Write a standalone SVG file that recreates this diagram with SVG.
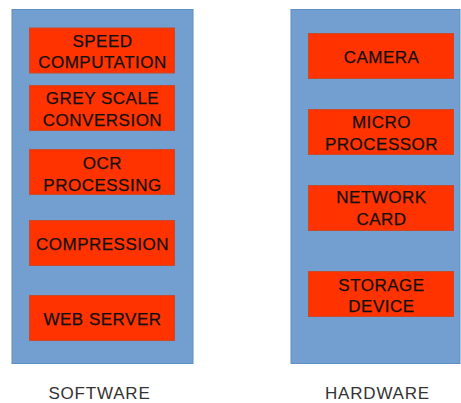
<svg xmlns="http://www.w3.org/2000/svg" width="461" height="403" viewBox="0 0 461 403">
  <style>
    .panel { fill: #729fcf; stroke: #5f8fc0; stroke-width: 1; }
    .box { fill: #ff3300; stroke: #c84a2a; stroke-width: 1; }
    .t { font-family: "Liberation Sans", Arial, sans-serif; font-size: 17px; letter-spacing: 0.5px; fill: #111111; stroke: #111111; stroke-width: 0.25; text-anchor: middle; }
    .cap { font-family: "Liberation Sans", Arial, sans-serif; font-size: 17px; letter-spacing: 0.8px; fill: #333333; text-anchor: middle; }
  </style>

  <!-- Software column -->
  <g id="software">
    <rect class="panel" x="12" y="9.5" width="181" height="354"/>
    <text class="cap" x="99.5" y="399">SOFTWARE</text>
  </g>
  <g id="speed-computation">
    <rect class="box" x="29.5" y="28" width="145" height="45"/>
    <text class="t" x="102.5" y="47">SPEED</text>
    <text class="t" x="102.5" y="68">COMPUTATION</text>
  </g>
  <g id="grey-scale-conversion">
    <rect class="box" x="29.5" y="85.5" width="145" height="45"/>
    <text class="t" x="102.5" y="104">GREY SCALE</text>
    <text class="t" x="102.5" y="126">CONVERSION</text>
  </g>
  <g id="ocr-processing">
    <rect class="box" x="29.5" y="149.5" width="145" height="45"/>
    <text class="t" x="102.5" y="169">OCR</text>
    <text class="t" x="102.5" y="191">PROCESSING</text>
  </g>
  <g id="compression">
    <rect class="box" x="29.5" y="220.5" width="145" height="45"/>
    <text class="t" x="102.5" y="250">COMPRESSION</text>
  </g>
  <g id="web-server">
    <rect class="box" x="29.5" y="295.5" width="145" height="45"/>
    <text class="t" x="102.5" y="325">WEB SERVER</text>
  </g>

  <!-- Hardware column -->
  <g id="hardware">
    <rect class="panel" x="291" y="9.5" width="169" height="354"/>
    <text class="cap" x="377.5" y="399">HARDWARE</text>
  </g>
  <g id="camera">
    <rect class="box" x="308.5" y="33.5" width="145" height="45"/>
    <text class="t" x="381.5" y="63">CAMERA</text>
  </g>
  <g id="micro-processor">
    <rect class="box" x="308.5" y="109.5" width="145" height="45"/>
    <text class="t" x="381.5" y="128">MICRO</text>
    <text class="t" x="381.5" y="150">PROCESSOR</text>
  </g>
  <g id="network-card">
    <rect class="box" x="308.5" y="185.5" width="145" height="45"/>
    <text class="t" x="381.5" y="203">NETWORK</text>
    <text class="t" x="381.5" y="225">CARD</text>
  </g>
  <g id="storage-device">
    <rect class="box" x="308.5" y="271.5" width="145" height="45"/>
    <text class="t" x="381.5" y="291">STORAGE</text>
    <text class="t" x="381.5" y="312">DEVICE</text>
  </g>

  <!-- no connectors in this layout -->
  <g id="connectors"/>
</svg>
